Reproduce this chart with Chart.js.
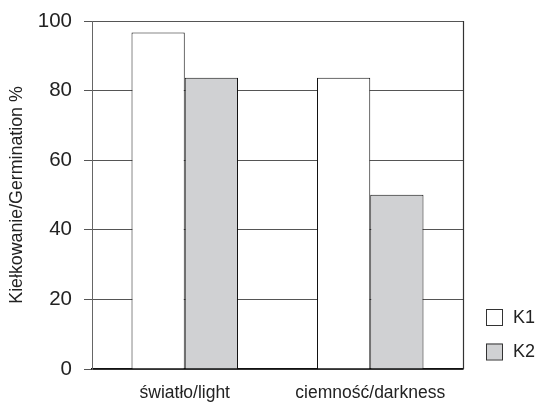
<!DOCTYPE html>
<html>
<head>
<meta charset="utf-8">
<script src="https://cdn.jsdelivr.net/npm/chart.js@4"></script>
<style>
html,body{margin:0;padding:0;background:#fff;}
#wrap{width:539px;height:404px;}
</style>
</head>
<body>
<div id="wrap"><canvas id="c" width="539" height="404"></canvas></div>
<script>
const categories = ["światło/light", "ciemność/darkness"];
const seriesNames = ["K1", "K2"];
const k1Values = [96.7, 83.7];
const k2Values = [83.7, 50.1];
const yTicks = [0, 20, 40, 60, 80, 100];
const yTitle = "Kiełkowanie/Germination %";

const FONT = "'Liberation Sans', Arial, sans-serif";

const legendPlugin = {
  id: 'customLegend',
  afterDraw(chart) {
    const ctx = chart.ctx;
    const items = chart.data.datasets;
    ctx.save();
    items.forEach((ds, i) => {
      const cy = 317 + i * 34.5;
      ctx.fillStyle = ds.backgroundColor;
      ctx.strokeStyle = '#333';
      ctx.lineWidth = 1;
      ctx.fillRect(486, cy - 8, 16, 16);
      ctx.strokeRect(486.5, cy - 7.5, 16, 16);
      ctx.fillStyle = '#222';
      ctx.font = "18px " + FONT;
      ctx.textBaseline = 'middle';
      ctx.textAlign = 'left';
      ctx.fillText(ds.label, 513, cy + 1);
    });
    ctx.restore();
  }
};

const framePlugin = {
  id: 'frame',
  afterDatasetsDraw(chart) {
    const a = chart.chartArea;
    const ctx = chart.ctx;
    ctx.save();
    ctx.strokeStyle = '#333';
    ctx.lineWidth = 1.2;
    ctx.beginPath();
    ctx.moveTo(Math.round(a.right) + 0.5, a.top);
    ctx.lineTo(Math.round(a.right) + 0.5, a.bottom);
    ctx.stroke();
    ctx.restore();
  }
};

new Chart(document.getElementById('c'), {
  type: 'bar',
  data: {
    labels: categories,
    datasets: [
      { label: seriesNames[0], data: k1Values, backgroundColor: '#ffffff', borderColor: '#111', borderWidth: 1 },
      { label: seriesNames[1], data: k2Values, backgroundColor: '#d0d1d3', borderColor: '#111', borderWidth: 1 }
    ]
  },
  options: {
    responsive: false,
    animation: false,
    devicePixelRatio: 1,
    layout: { padding: { top: 21, right: 76, left: 0, bottom: 0 } },
    plugins: { legend: { display: false }, tooltip: { enabled: false } },
    datasets: { bar: { categoryPercentage: 0.574, barPercentage: 1.0 } },
    scales: {
      x: {
        grid: { display: false },
        border: { display: true, color: '#111', width: 1.5 },
        ticks: { color: '#222', font: { family: FONT, size: 17.5 }, padding: 6 },
        afterFit(s) { s.height = 35; s.paddingLeft = 0; s.paddingRight = 0; }
      },
      y: {
        min: 0, max: 100,
        afterBuildTicks(s) { s.ticks = yTicks.map(v => ({ value: v })); },
        grid: { color: '#555', lineWidth: 1, tickLength: 8, drawTicks: true, tickColor: '#555' },
        border: { display: true, color: '#666', width: 1 },
        ticks: { color: '#222', font: { family: FONT, size: 20.5 }, padding: 12 },
        title: { display: true, text: yTitle, color: '#222', font: { family: FONT, size: 17.8 }, padding: { top: 6, bottom: 0 } },
        afterFit(s) { s.width = 92; s.paddingTop = 0; s.paddingBottom = 0; }
      }
    }
  },
  plugins: [legendPlugin, framePlugin]
});
</script>
</body>
</html>
